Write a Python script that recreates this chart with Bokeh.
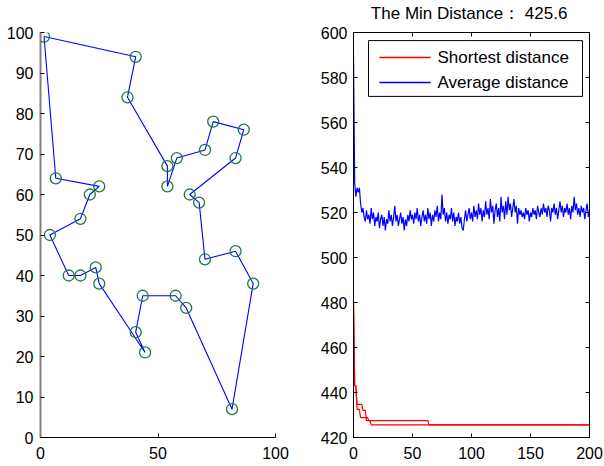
from bokeh.plotting import figure
from bokeh.layouts import row
from bokeh.models import LinearAxis, Range1d, FixedTicker, CustomLabelingPolicy
from bokeh.core.properties import value
from bokeh.embed import file_html
from bokeh.resources import INLINE
import numpy as np

# ---------------- data ----------------
# TSP tour (city coordinates in visiting order)
tour_x = [1.5, 40.5, 37, 54, 54, 58, 70, 73.5, 86.5, 83, 63.5, 67.5, 70, 83, 90.5,
          81.5, 62, 57.5, 43.5, 40.5, 44.5, 25, 23.5, 17, 12, 4, 17, 21, 25, 6.5]
tour_y = [99, 94, 84, 67, 62, 69, 71, 78, 76, 69, 60, 58, 44, 46, 38,
          7, 32, 35, 35, 26, 21, 38, 42, 40, 40, 50, 54, 60, 62, 64]

iterations = list(range(201))
avg_distance = [
    590, 533, 527, 531, 529, 531, 524, 520, 522, 518,
    516, 521, 517, 519, 515, 522, 517, 520, 514, 518,
    516, 520, 513, 517, 519, 514, 518, 512, 517, 515,
    521, 516, 519, 514, 518, 523, 516, 519, 514, 517,
    520, 515, 518, 512, 517, 514, 519, 516, 521, 517,
    519, 515, 520, 517, 522, 516, 519, 514, 518, 521,
    516, 519, 515, 522, 517, 520, 514, 519, 516, 521,
    518, 523, 516, 520, 517, 528, 519, 522, 516, 520,
    515, 519, 517, 522, 516, 520, 514, 518, 516, 520,
    515, 518, 513, 512, 517, 521, 516, 519, 522, 517,
    520, 516, 523, 518, 521, 517, 524, 519, 522, 516,
    521, 518, 525, 519, 522, 517, 526, 520, 523, 515,
    521, 524, 518, 522, 516, 527, 520, 523, 517, 525,
    519, 527, 521, 524, 518, 522, 526, 520, 523, 515,
    522, 519, 521, 518, 520, 517, 522, 519, 521, 516,
    520, 518, 522, 519, 521, 517, 523, 520, 518, 522,
    519, 524, 520, 522, 518, 523, 521, 516, 522, 520,
    524, 519, 522, 517, 521, 525, 520, 523, 518, 522,
    520, 524, 519, 522, 517, 523, 520, 527, 521, 524,
    519, 522, 518, 523, 520, 522, 517, 521, 524, 518,
    521,
]
# shortest distance (two runs), stored as level / run-length pairs
short_a_levels = [480, 443, 434.7, 432.1, 427.5, 425.6]
short_a_runs = [1, 2, 5, 3, 53, 137]
short_b_levels = [480, 443, 432.5, 428.8, 427.5, 425.6]
short_b_runs = [1, 2, 3, 7, 2, 186]
min_distance = 425.6

legend_labels = ["Shortest distance", "Average distance"]
legend_colors = ["#ff0000", "#0000ff"]

x_ticks_left = [0, 50, 100]
y_ticks_left = [0, 10, 20, 30, 40, 50, 60, 70, 80, 90, 100]
x_ticks_right = [0, 50, 100, 150, 200]
y_ticks_right = [420, 440, 460, 480, 500, 520, 540, 560, 580, 600]

FONT = "Liberation Sans"
TICK_SIZE = "16px"


def style_axis(ax, standoff=6):
    ax.major_tick_in = 4
    ax.major_tick_out = 0
    ax.minor_tick_in = 0
    ax.minor_tick_out = 0
    ax.major_tick_line_color = "black"
    ax.axis_line_color = "black"
    ax.major_label_text_font = FONT
    ax.major_label_text_font_size = TICK_SIZE
    ax.major_label_text_color = "black"
    ax.major_label_standoff = standoff


# ---------------- left: tour ----------------
p1 = figure(width=300, height=462, x_range=Range1d(0, 100), y_range=Range1d(0, 100),
            output_backend="svg", toolbar_location=None,
            min_border_left=40, min_border_right=25, min_border_top=30, min_border_bottom=24)
p1.outline_line_color = None
p1.grid.visible = False
p1.xaxis.ticker = FixedTicker(ticks=x_ticks_left)
p1.yaxis.ticker = FixedTicker(ticks=y_ticks_left)
for ax in p1.xaxis:
    style_axis(ax, 9)
for ax in p1.yaxis:
    style_axis(ax, 7)
    ax.axis_line_color = "#808080"
    ax.axis_line_width = 2

loop_x = tour_x + tour_x[:1]
loop_y = tour_y + tour_y[:1]
p1.line(loop_x, loop_y, line_color="#0000ff", line_width=1.1)
p1.scatter(tour_x, tour_y, marker="circle", size=11, fill_color=None,
           line_color="#1f7a45", line_width=1.3)

# ---------------- right: convergence ----------------
p2 = figure(width=303, height=462, x_range=Range1d(0, 200), y_range=Range1d(420, 600),
            output_backend="svg", toolbar_location=None,
            min_border_left=53, min_border_right=14, min_border_top=32, min_border_bottom=25)
p2.outline_line_color = "black"
p2.outline_line_width = 1
p2.grid.visible = False
p2.xaxis.ticker = FixedTicker(ticks=x_ticks_right)
p2.yaxis.ticker = FixedTicker(ticks=y_ticks_right)
for ax in list(p2.xaxis):
    style_axis(ax, 9)
for ax in list(p2.yaxis):
    style_axis(ax, 6)

hide_labels = CustomLabelingPolicy(code="""
const all = [...indices]
for (const i of all) indices.unset(i)
""")
top_ax = LinearAxis(ticker=FixedTicker(ticks=x_ticks_right))
right_ax = LinearAxis(ticker=FixedTicker(ticks=y_ticks_right))
spacer_ax = LinearAxis(ticker=FixedTicker(ticks=x_ticks_right))
for ax in (top_ax, right_ax, spacer_ax):
    style_axis(ax, 0)
    ax.major_label_text_font_size = "0px"
    ax.major_label_policy = hide_labels
# invisible axis whose outward ticks only reserve room below the title
spacer_ax.major_tick_in = 0
spacer_ax.major_tick_out = 10
spacer_ax.major_tick_line_color = None
spacer_ax.axis_line_color = None
p2.add_layout(top_ax, "above")
p2.add_layout(spacer_ax, "above")
p2.add_layout(right_ax, "right")

short_a = list(np.repeat(short_a_levels, short_a_runs))
short_b = list(np.repeat(short_b_levels, short_b_runs))

p2.line(iterations, short_a, line_color=legend_colors[0], line_width=1.2)
p2.line(iterations, short_b, line_color=legend_colors[0], line_width=1.2)
p2.line(iterations, avg_distance, line_color=legend_colors[1], line_width=1.2)

# legend box (drawn by hand, placed in the upper part of the frame)
LEG_LEFT, LEG_RIGHT, LEG_BOTTOM, LEG_TOP = 12.7, 194.1, 571.6, 596.4
LEG_SWATCH = (22.0, 65.3)
LEG_TEXT_X = 71.2
LEG_ROWS = [588.9, 577.8]
p2.quad(left=[LEG_LEFT], right=[LEG_RIGHT], bottom=[LEG_BOTTOM], top=[LEG_TOP],
        fill_color="white", line_color="black", line_width=1)
for yrow, col in zip(LEG_ROWS, legend_colors):
    p2.line(list(LEG_SWATCH), [yrow, yrow], line_color=col, line_width=1.5)
p2.text(x=[LEG_TEXT_X] * len(legend_labels), y=LEG_ROWS, text=legend_labels,
        text_font=value(FONT), text_font_size="17px", text_color="black",
        text_align="left", text_baseline="middle")

p2.title.text = "The Min Distance：  %.1f" % min_distance
p2.title.align = "center"
p2.title.text_font = FONT
p2.title.text_font_size = "17px"
p2.title.text_font_style = "normal"
p2.title.text_color = "black"
p2.title.standoff = 0
p2.title.offset = 0

layout = row(p1, p2)
open("out.html", "w").write(file_html(layout, INLINE))
